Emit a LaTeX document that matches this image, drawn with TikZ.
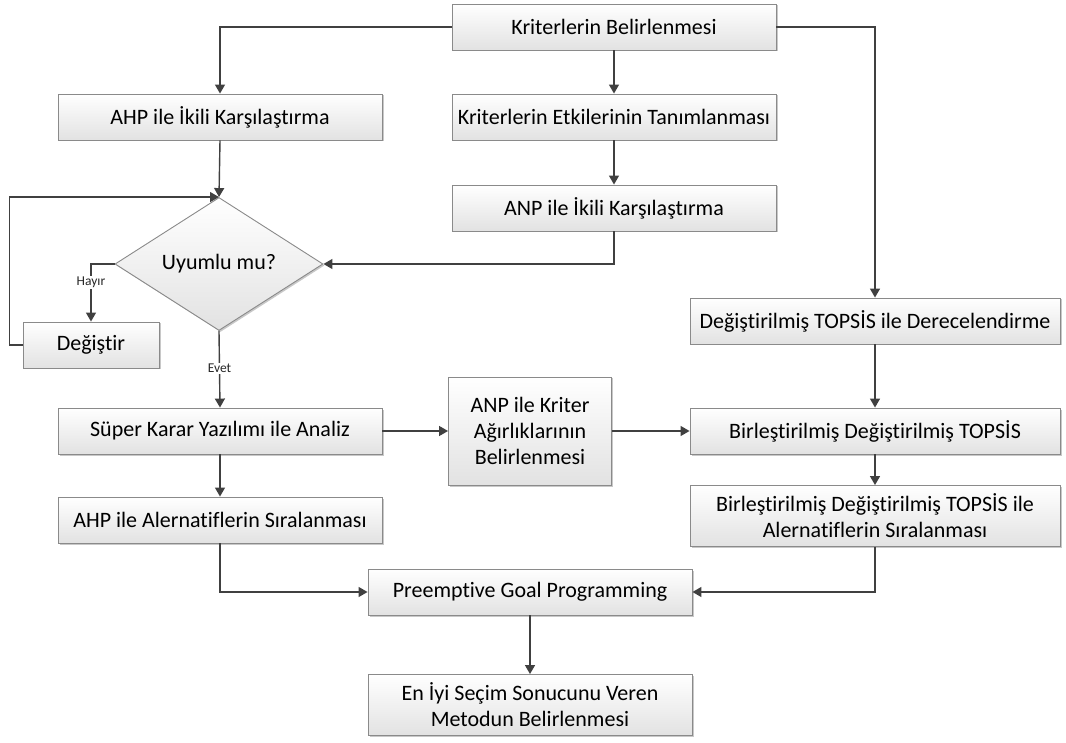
\documentclass[tikz,border=0pt]{standalone}
\usepackage{fontspec}
\setmainfont{Carlito}[Ligatures={NoCommon}]
\usetikzlibrary{shapes.geometric,arrows.meta,shadows}
\definecolor{edgegray}{HTML}{8A8A8A}
\definecolor{linegray}{HTML}{404040}
\definecolor{boxbottom}{HTML}{E2E2E2}
\definecolor{shadowgray}{HTML}{C8C8C8}
\begin{document}
\begin{tikzpicture}[x=1pt,y=-1pt,
  box/.style={draw=edgegray, line width=0.9pt, top color=white, bottom color=boxbottom,
    drop shadow={shadow xshift=1.5pt, shadow yshift=-1.5pt, fill=shadowgray, opacity=1},
    align=center, inner sep=2pt, font=\fontsize{22}{26}\selectfont, text=black},
  wbox/.style={box, minimum width=324pt, minimum height=46pt},
  rbox/.style={box, minimum width=370pt, minimum height=46pt},
  decision/.style={box, shape=diamond, minimum width=208pt, minimum height=133pt, aspect=1.56, inner sep=0pt},
  arr/.style={draw=linegray, line width=1.4pt, -{Triangle[length=9pt,width=10pt]}},
  lbl/.style={fill=white, inner sep=1pt, font=\fontsize{13.5}{15}\selectfont, text=black!85}]
\useasboundingbox (0,0) rectangle (1066,743);

% boxes
\node[wbox] (kb) at (614,27) {Kriterlerin Belirlenmesi};
\node[wbox] (ahp) at (220,117) {AHP ile İkili Karşılaştırma};
\node[wbox] (ke) at (614,117) {Kriterlerin Etkilerinin Tanımlanması};
\node[wbox] (anp) at (614,208) {ANP ile İkili Karşılaştırma};
\node[decision] (dia) at (219,264) {Uyumlu mu?};
\node[box, minimum width=136pt, minimum height=46pt] (deg) at (91,345) {Değiştir};
\node[rbox] (dt) at (875,321) {Değiştirilmiş TOPSİS ile Derecelendirme};
\node[wbox] (sk) at (220,431) {Süper Karar Yazılımı ile Analiz};
\node[box, minimum width=163pt, minimum height=108pt] (anpk) at (530,431) {ANP ile Kriter\\Ağırlıklarının\\Belirlenmesi};
\node[rbox] (bdt) at (875,431) {Birleştirilmiş Değiştirilmiş TOPSİS};
\node[wbox] (ahpa) at (220,520) {AHP ile Alernatiflerin Sıralanması};
\node[rbox, minimum height=61pt] (bdta) at (875,516) {Birleştirilmiş Değiştirilmiş TOPSİS ile\\Alernatiflerin Sıralanması};
\node[wbox] (pgp) at (530,592) {Preemptive Goal Programming};
\node[wbox, minimum height=61pt] (eni) at (530,705) {En İyi Seçim Sonucunu Veren\\Metodun Belirlenmesi};

% connectors
\draw[arr] (kb.west) -| (ahp.north);
\draw[arr] (kb.south) -- (ke.north);
\draw[arr] (kb.east) -| (dt.north);
\draw[arr] (ke.south) -- (anp.north);
\draw[arr] (ahp.south) -- (dia.north);
\draw[arr] (anp.south) |- (dia.east);
\draw[arr] (dia.west) -| node[lbl, pos=0.66] {Hayır} (deg.north);
\draw[arr] (deg.west) -- ++(-13,0) |- (dia.north);
\draw[arr] (dia.south) -- node[lbl, pos=0.49] {Evet} (sk.north);
\draw[arr] (sk.east) -- (anpk.west);
\draw[arr] (anpk.east) -- (bdt.west);
\draw[arr] (dt.south) -- (bdt.north);
\draw[arr] (bdt.south) -- (bdta.north);
\draw[arr] (sk.south) -- (ahpa.north);
\draw[arr] (ahpa.south) |- (pgp.west);
\draw[arr] (bdta.south) |- (pgp.east);
\draw[arr] (pgp.south) -- (eni.north);
\end{tikzpicture}
\end{document}
